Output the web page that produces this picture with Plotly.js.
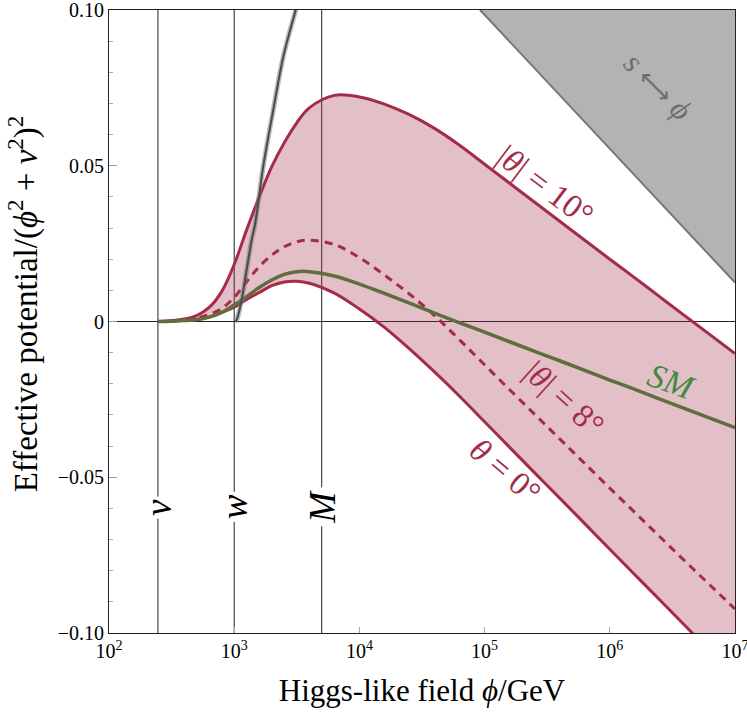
<!DOCTYPE html>
<html>
<head>
<meta charset="utf-8">
<script src="https://cdn.plot.ly/plotly-3.0.1.min.js"></script>
<style>html,body{margin:0;padding:0;background:#fff;}#chart{width:747px;height:718px;}</style>
</head>
<body>
<div id="chart"></div>
<script>
// Higgs-like field phi (GeV)
const phi = [246, 316, 398, 501, 631, 794, 1000, 1259, 1585, 1995, 2512, 3162, 3981, 6310, 10000, 15849, 25119, 39811, 63096, 100000, 158489, 251189, 398107, 630957, 1000000, 1584893, 2511886, 3981072, 6309573, 10000000];
// Effective potential / (phi^2+v^2)^2
const theta10 = [0, 0.0003, 0.0008, 0.0019, 0.0045, 0.0096, 0.0183, 0.0295, 0.0400, 0.0497, 0.0574, 0.0638, 0.0686, 0.0726, 0.0721, 0.0698, 0.0664, 0.0620, 0.0566, 0.0505, 0.0444, 0.0383, 0.0322, 0.0261, 0.0200, 0.0140, 0.0079, 0.0018, -0.0042, -0.0103];
const theta8 = [0, 0.0001, 0.0005, 0.0011, 0.0022, 0.0042, 0.0077, 0.0128, 0.0176, 0.0213, 0.0240, 0.0256, 0.0261, 0.0247, 0.0205, 0.0149, 0.0088, 0.0019, -0.0059, -0.0139, -0.0219, -0.0298, -0.0377, -0.0456, -0.0535, -0.0613, -0.0691, -0.0769, -0.0846, -0.0923];
const theta0 = [0, 0.0001, 0.0003, 0.0006, 0.0014, 0.0029, 0.0046, 0.0071, 0.0093, 0.0115, 0.0127, 0.0129, 0.0123, 0.0091, 0.0040, -0.0019, -0.0088, -0.0162, -0.0240, -0.0322, -0.0404, -0.0486, -0.0567, -0.0649, -0.0731, -0.0813, -0.0894, -0.0976, -0.1058, -0.1140];
const sm = [0, 0.0001, 0.0003, 0.0006, 0.0014, 0.0029, 0.0053, 0.0080, 0.0109, 0.0133, 0.0151, 0.0160, 0.0160, 0.0146, 0.0120, 0.0090, 0.0059, 0.0027, -0.0004, -0.0034, -0.0065, -0.0096, -0.0126, -0.0157, -0.0188, -0.0218, -0.0249, -0.0280, -0.0310, -0.0341];
// steep grey curve
const greyPhi = [1014, 1047, 1148, 1259, 1380, 1466, 1706, 2051, 2466, 3155, 3357];
const greyV = [0, 0.0006, 0.0071, 0.0167, 0.0263, 0.0311, 0.0498, 0.0679, 0.0850, 0.1011, 0.105];
// s <-> phi excluded region boundary
const regionPhi = [92000, 10000000, 10000000];
const regionV = [0.10, 0.0125, 0.10];
// reference scales
const scalePhi = [246, 1000, 5000];
const scaleLabels = ['v', 'w', 'M'];
// axis ticks
const xTickVals = [1e2, 1e3, 1e4, 1e5, 1e6, 1e7];
const xTickText = ['10<sup>2</sup>', '10<sup>3</sup>', '10<sup>4</sup>', '10<sup>5</sup>', '10<sup>6</sup>', '10<sup>7</sup>'];
const yTickVals = [-0.10, -0.05, 0, 0.05, 0.10];
const yTickText = ['\u22120.10', '\u22120.05', '0', '0.05', '0.10'];

const crimson = '#a32c49';
const serif = '"Liberation Serif", "DejaVu Serif", serif';

const traces = [
  {x: phi, y: theta0, mode: 'lines', line: {color: crimson, width: 3, shape: 'spline', smoothing: 1}, hoverinfo: 'skip'},
  {x: phi, y: theta10, mode: 'lines', fill: 'tonexty', fillcolor: 'rgba(163,44,73,0.3)', line: {color: crimson, width: 3, shape: 'spline', smoothing: 1}, hoverinfo: 'skip'},
  {x: phi, y: theta8, mode: 'lines', line: {color: crimson, width: 3, dash: '8px,6px', shape: 'spline', smoothing: 1}, hoverinfo: 'skip'},
  {x: phi, y: sm, mode: 'lines', line: {color: '#5e6e3e', width: 3.5, shape: 'spline', smoothing: 1}, hoverinfo: 'skip'},
  {x: greyPhi, y: greyV, mode: 'lines', line: {color: 'rgba(120,120,120,0.5)', width: 5, shape: 'spline'}, hoverinfo: 'skip'},
  {x: greyPhi, y: greyV, mode: 'lines', line: {color: '#4a4a4a', width: 2, shape: 'spline'}, hoverinfo: 'skip'},
  {x: regionPhi, y: regionV, mode: 'lines', fill: 'toself', fillcolor: '#b3b3b3', line: {width: 0}, hoverinfo: 'skip'},
  {x: regionPhi.slice(0, 2), y: regionV.slice(0, 2), mode: 'lines', line: {color: '#777777', width: 2}, hoverinfo: 'skip'}
];

const shapes = scalePhi.map(p => ({type: 'line', xref: 'x', yref: 'paper', x0: p, x1: p, y0: 0, y1: 1, line: {color: '#222', width: 1}, layer: 'below'}));

const annotations = scaleLabels.map((t, i) => ({
  x: Math.log10(scalePhi[i]), y: -0.0596, xref: 'x', yref: 'y', text: '<i>' + t + '</i>',
  textangle: -90, bgcolor: '#ffffff', borderpad: 2, font: {family: serif, size: 37, color: '#000'}
}));
annotations.push(
  {x: Math.log10(3.09e5), y: 0.0436, xref: 'x', yref: 'y', text: '|<i>θ</i>| = 10°', textangle: 37, font: {family: serif, size: 33, color: crimson}},
  {x: Math.log10(3.11e6), y: -0.0191, xref: 'x', yref: 'y', text: '<i>SM</i>', textangle: 20, font: {family: serif, size: 34, color: '#3f8a3f'}},
  {x: Math.log10(4.27e5), y: -0.0247, xref: 'x', yref: 'y', text: '|<i>θ</i>| = 8°', textangle: 42, font: {family: serif, size: 33, color: crimson}},
  {x: Math.log10(1.46e5), y: -0.0479, xref: 'x', yref: 'y', text: '<i>θ</i> = 0°', textangle: 40, font: {family: serif, size: 33, color: crimson}},
  {x: Math.log10(2.45e6), y: 0.0756, xref: 'x', yref: 'y', text: '<i>s</i> <span style="font-family:\'DejaVu Sans\';font-size:26px">⟷</span> <i>ϕ</i>', textangle: 45, font: {family: serif, size: 31, color: '#6e6e6e'}},
  // y-axis title placed as in the reference (slightly above the axis centre)
  {x: -0.136, y: 0.529, xref: 'paper', yref: 'paper', xanchor: 'center', yanchor: 'middle', text: 'Effective potential/(<i>ϕ</i><sup>2</sup> + <i>v</i><sup>2</sup>)<sup>2</sup>', textangle: -90, font: {family: serif, size: 33, color: '#000'}}
);
annotations.forEach(a => { a.showarrow = false; });

const layout = {
  width: 747, height: 718,
  margin: {l: 109, r: 12, t: 10, b: 85},
  paper_bgcolor: '#fff', plot_bgcolor: '#fff',
  showlegend: false,
  font: {family: serif, color: '#000'},
  xaxis: {
    type: 'log', range: [2, 7], tickvals: xTickVals, ticktext: xTickText,
    ticks: 'inside', ticklen: 6, tickcolor: '#aaa', showgrid: false, zeroline: false,
    showline: true, mirror: true, linecolor: '#222', linewidth: 1, ticklabeloverflow: 'allow',
    tickfont: {family: serif, size: 20, color: '#000'},
    title: {text: 'Higgs-like field <i>ϕ</i>/GeV', font: {family: serif, size: 31, color: '#000'}, standoff: 18}
  },
  yaxis: {
    range: [-0.10, 0.10], tickvals: yTickVals, ticktext: yTickText,
    ticks: 'inside', ticklen: 8, tickcolor: '#999', showgrid: false,
    minor: {dtick: 0.01, tick0: 0, ticks: 'inside', ticklen: 4, tickcolor: '#aaa', showgrid: false},
    zeroline: true, zerolinecolor: '#222', zerolinewidth: 1,
    showline: true, mirror: true, linecolor: '#222', linewidth: 1, ticklabeloverflow: 'allow',
    tickfont: {family: serif, size: 20, color: '#000'}
  },
  shapes: shapes,
  annotations: annotations
};

Plotly.newPlot('chart', traces, layout, {staticPlot: true, displayModeBar: false});
</script>
</body>
</html>
